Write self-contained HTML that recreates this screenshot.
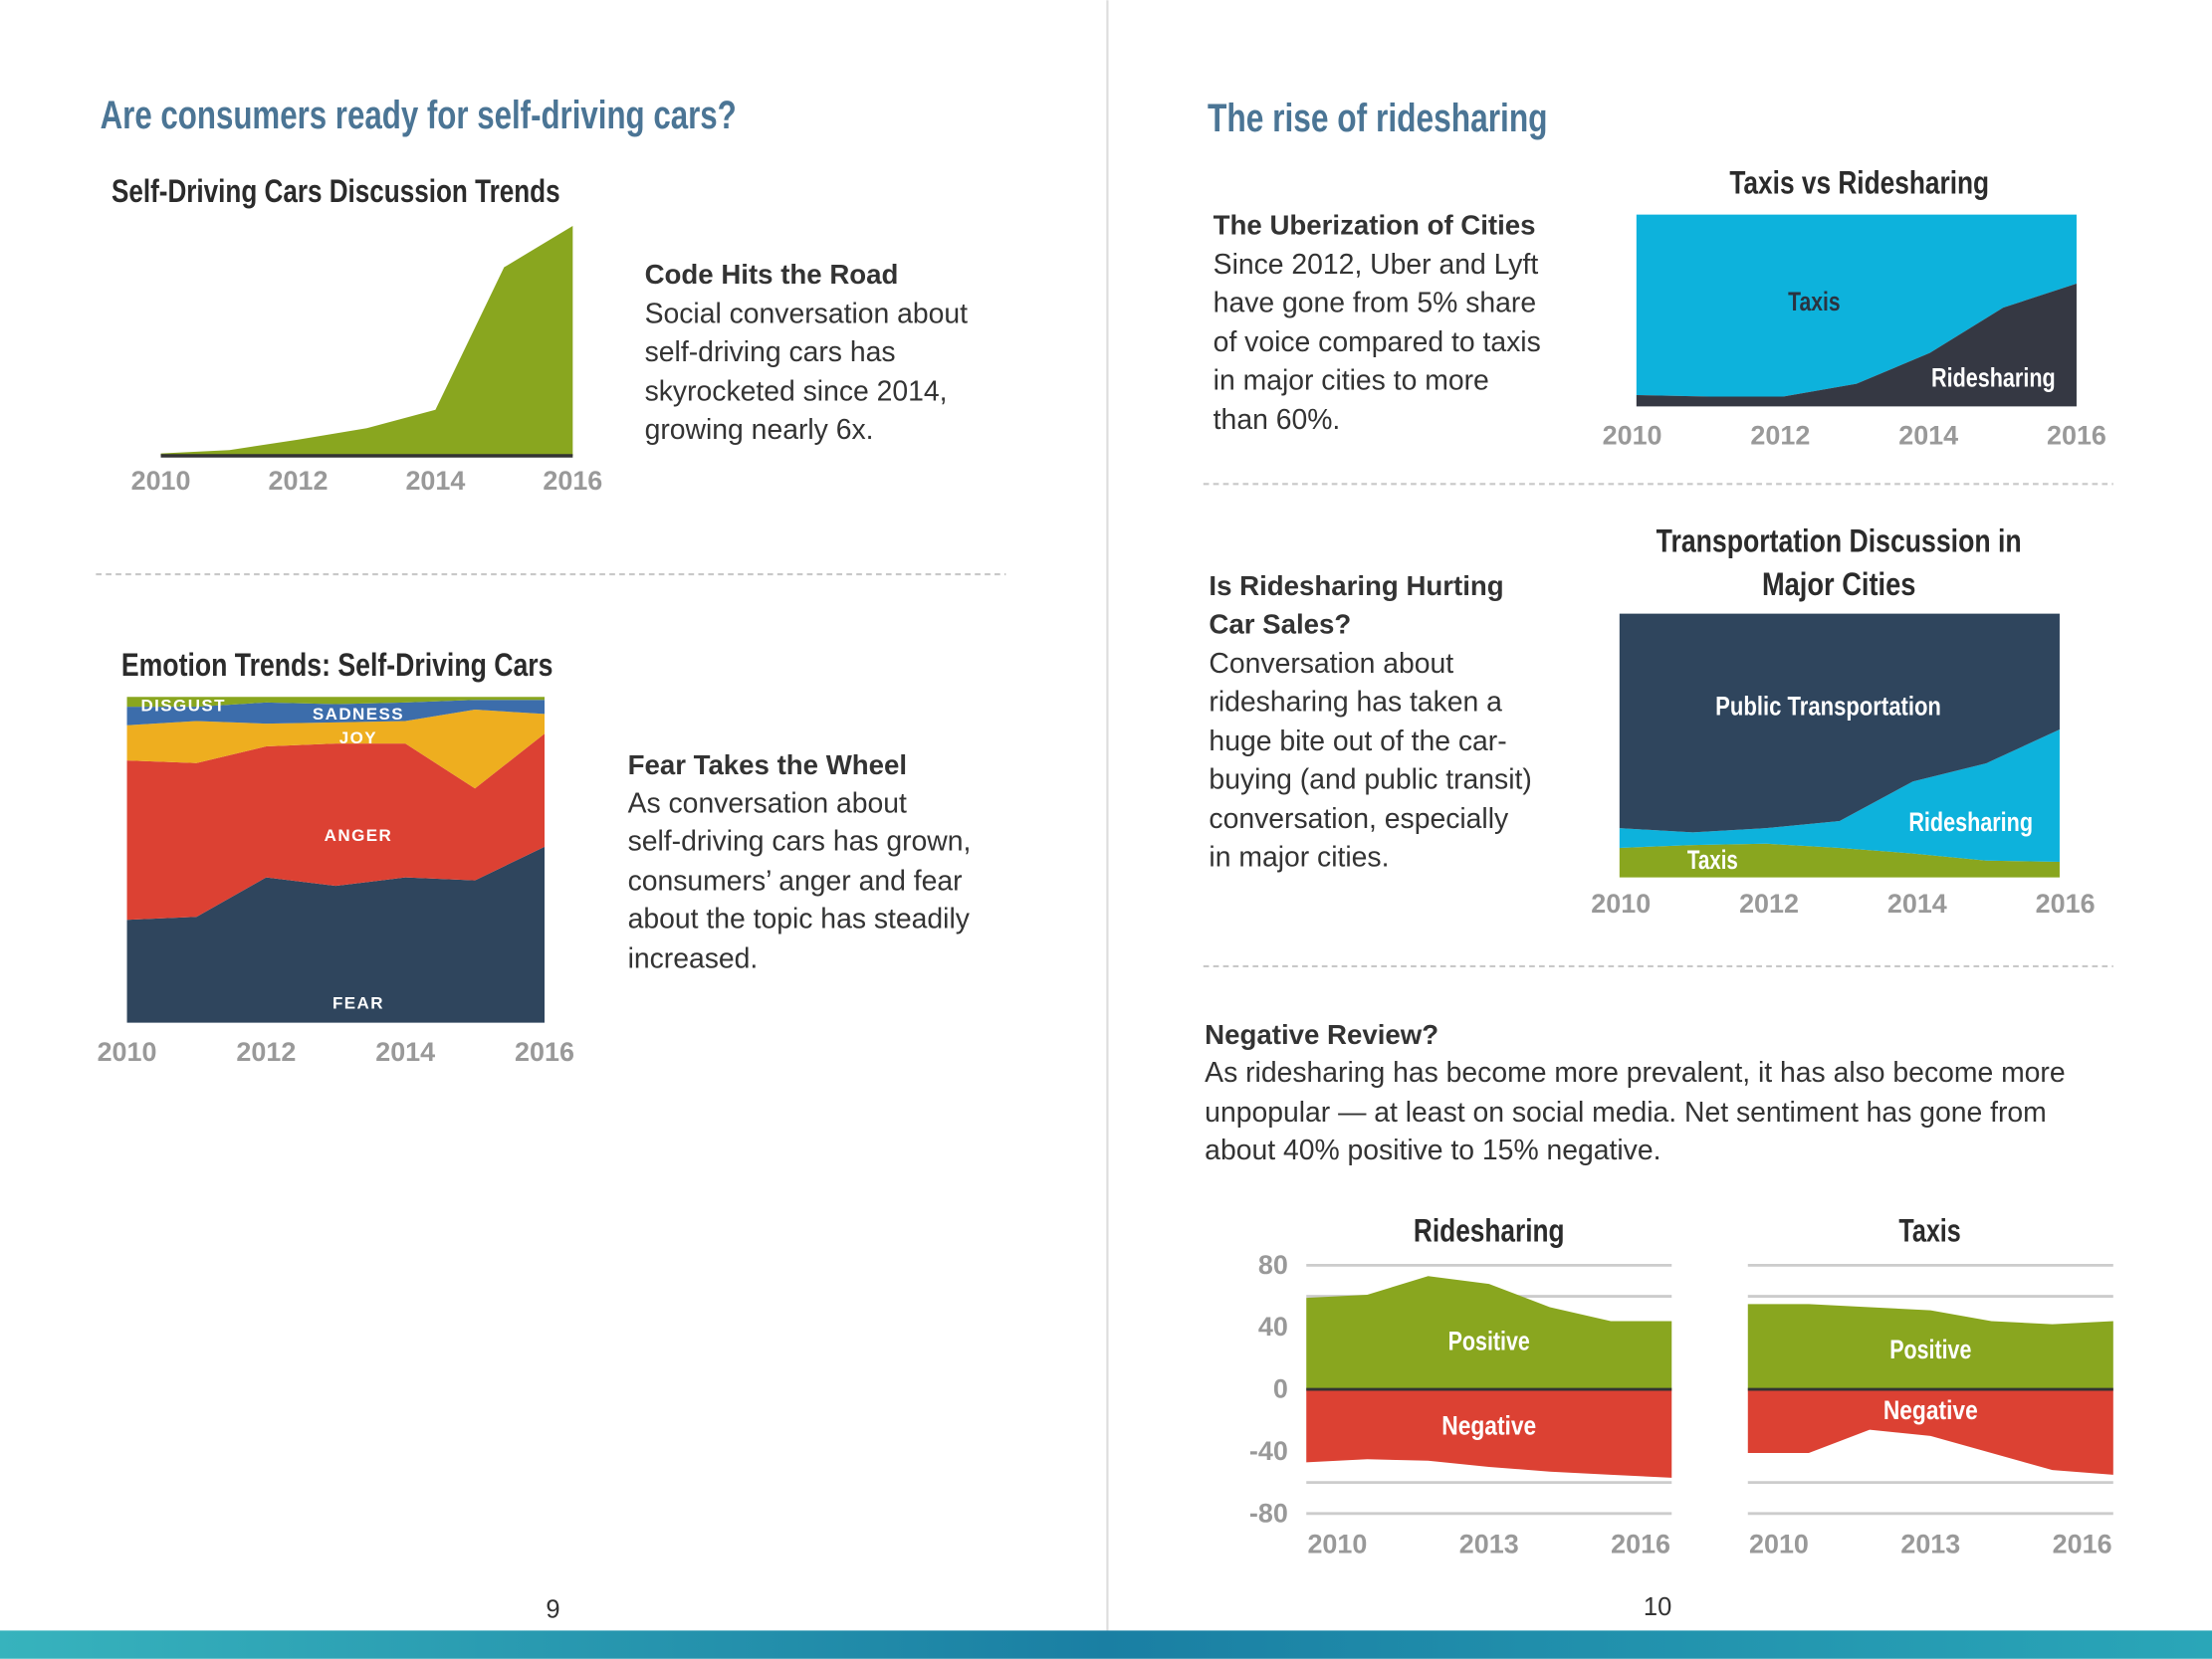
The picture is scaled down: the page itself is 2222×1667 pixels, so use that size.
<!DOCTYPE html>
<html><head><meta charset="utf-8">
<style>
html,body{margin:0;padding:0;background:#fff;}
svg{display:block;}
.h1{font-family:"Liberation Sans",sans-serif;font-weight:bold;fill:#4b7595;font-size:28px;}
.ct{font-family:"Liberation Sans",sans-serif;font-weight:bold;fill:#2b2b2b;font-size:23px;}
.bh{font-family:"Liberation Sans",sans-serif;font-weight:bold;fill:#333;font-size:19.5px;}
.bt{font-family:"Liberation Sans",sans-serif;fill:#333;font-size:20px;}
.tk{font-family:"Liberation Sans",sans-serif;font-weight:bold;fill:#999;font-size:19px;}
.in{font-family:"Liberation Sans",sans-serif;font-weight:bold;fill:#fff;font-size:19px;}
.em{font-family:"Liberation Sans",sans-serif;font-weight:bold;fill:#fff;font-size:12px;letter-spacing:1px;}
</style></head><body>
<svg id="pg" width="2222" height="1667" viewBox="0 0 1568 1176" xmlns="http://www.w3.org/2000/svg">
<defs>
<linearGradient id="ban" x1="0" x2="1" y1="0" y2="0">
<stop offset="0" stop-color="#37b3bd"/><stop offset="0.5" stop-color="#1a7fa3"/><stop offset="1" stop-color="#2aa6b8"/>
</linearGradient>
</defs>
<line x1="785" y1="0" x2="785" y2="1156" stroke="#ddd" stroke-width="1.5"/>
<text class="h1" x="71" y="91" textLength="451" lengthAdjust="spacingAndGlyphs">Are consumers ready for self-driving cars?</text>
<text class="h1" x="856" y="93" textLength="241" lengthAdjust="spacingAndGlyphs">The rise of ridesharing</text>

<text class="ct" x="79" y="143" textLength="318" lengthAdjust="spacingAndGlyphs">Self-Driving Cars Discussion Trends</text>
<g id="c1"></g>
<text class="bh" x="457" y="201">Code Hits the Road</text>
<g class="bt">
<text x="457" y="229">Social conversation about</text><text x="457" y="256">self-driving cars has</text>
<text x="457" y="284">skyrocketed since 2014,</text><text x="457" y="311">growing nearly 6x.</text></g>

<line x1="68" y1="407" x2="713" y2="407" stroke="#c8c8c8" stroke-width="1.5" stroke-dasharray="4,3"/>

<text class="ct" x="86" y="479" textLength="306" lengthAdjust="spacingAndGlyphs">Emotion Trends: Self-Driving Cars</text>
<g id="c2"></g>
<text class="bh" x="445" y="549">Fear Takes the Wheel</text>
<g class="bt">
<text x="445" y="576">As conversation about</text><text x="445" y="603">self-driving cars has grown,</text>
<text x="445" y="631">consumers’ anger and fear</text><text x="445" y="658">about the topic has steadily</text>
<text x="445" y="686">increased.</text></g>

<text class="ct" x="1226" y="137" textLength="184" lengthAdjust="spacingAndGlyphs">Taxis vs Ridesharing</text>
<g id="c3"></g>
<text class="bh" x="860" y="166">The Uberization of Cities</text>
<g class="bt">
<text x="860" y="194">Since 2012, Uber and Lyft</text><text x="860" y="221">have gone from 5% share</text>
<text x="860" y="249">of voice compared to taxis</text><text x="860" y="276">in major cities to more</text>
<text x="860" y="304">than 60%.</text></g>

<line x1="853" y1="343" x2="1498" y2="343" stroke="#c8c8c8" stroke-width="1.5" stroke-dasharray="4,3"/>

<text class="ct" x="1174" y="391" textLength="259" lengthAdjust="spacingAndGlyphs">Transportation Discussion in</text>
<text class="ct" x="1249" y="422" textLength="109" lengthAdjust="spacingAndGlyphs">Major Cities</text>
<g id="c4"></g>
<g class="bh">
<text x="857" y="422">Is Ridesharing Hurting</text><text x="857" y="449">Car Sales?</text></g>
<g class="bt">
<text x="857" y="477">Conversation about</text><text x="857" y="504">ridesharing has taken a</text>
<text x="857" y="532">huge bite out of the car-</text><text x="857" y="559">buying (and public transit)</text>
<text x="857" y="587">conversation, especially</text><text x="857" y="614">in major cities.</text></g>

<line x1="853" y1="685" x2="1498" y2="685" stroke="#c8c8c8" stroke-width="1.5" stroke-dasharray="4,3"/>

<text class="bh" x="854" y="740">Negative Review?</text>
<g class="bt">
<text x="854" y="767">As ridesharing has become more prevalent, it has also become more</text>
<text x="854" y="795">unpopular — at least on social media. Net sentiment has gone from</text>
<text x="854" y="822">about 40% positive to 15% negative.</text></g>

<text class="ct" x="1002" y="880" textLength="107" lengthAdjust="spacingAndGlyphs">Ridesharing</text>
<text class="ct" x="1346" y="880" textLength="44" lengthAdjust="spacingAndGlyphs">Taxis</text>
<g id="c5"></g>
<g id="c6"></g>

<text x="392" y="1147" text-anchor="middle" font-family="Liberation Sans, sans-serif" font-size="18" fill="#333">9</text>
<text x="1175" y="1145" text-anchor="middle" font-family="Liberation Sans, sans-serif" font-size="18" fill="#333">10</text>
<rect x="0" y="1156" width="1568" height="20" fill="url(#ban)"/>
</svg>
<script>
// ---- data ----
const years = [2010,2011,2012,2013,2014,2015,2016];
const sdValues = [1,2.5,7,12,20,82,100];
const sdTicks = [2010,2012,2014,2016];
const emFear = [31.6,32.5,44.6,42,44.6,43.7,54];
const emAnger = [48.9,47.2,40.2,43.7,41.1,28.2,34.7];
const emJoy = [10.8,12.9,7,6.5,6.9,24.2,6.1];
const emSadness = [5.7,4.4,6.5,5.6,5.7,3,4.3];
const emDisgust = [3,3,1.7,2.2,1.7,0.9,0.9];
const tvrRides = [5.9,5.1,5.1,11.8,27.9,51.5,64];
const tvrTaxis = [94.1,94.9,94.9,88.2,72.1,48.5,36];
const trTaxis = [11.2,12.3,12.8,11.2,9.1,6.4,5.9];
const trRides = [7.5,4.8,5.9,10.2,27.3,36.9,50.2];
const trPublic = [81.3,82.9,81.3,78.6,63.6,56.7,43.9];
const rsPos = [59,61,73,68,53,44,44];
const rsNeg = [-47,-45,-46,-50,-53,-55,-57];
const txPos = [55,55,53,51,44,42,44];
const txNeg = [-41,-41,-26,-30,-41,-52,-55];
const sentTicks = [2010,2013,2016];
const sentYTicks = [80,40,0,-40,-80];

const NS='http://www.w3.org/2000/svg';
function mk(parent,tag,attrs,txt){const e=document.createElementNS(NS,tag);for(const k in attrs)e.setAttribute(k,attrs[k]);if(txt!==undefined)e.textContent=txt;document.getElementById(parent).appendChild(e);return e;}
function lin(d0,d1,r0,r1){return v=>r0+(v-d0)*(r1-r0)/(d1-d0);}
function band(xf,yf,lo,hi){let d='M'+xf(years[0])+','+yf(hi[0]);for(let i=1;i<years.length;i++)d+=' L'+xf(years[i])+','+yf(hi[i]);for(let i=years.length-1;i>=0;i--)d+=' L'+xf(years[i])+','+yf(lo[i]);return d+' Z';}
function cum(arrs){const out=[];let acc=years.map(()=>0);out.push(acc);for(const a of arrs){acc=acc.map((v,i)=>v+a[i]);out.push(acc);}return out;}
const zeros=years.map(()=>0);
function lab(parent,t,cx,ly,w,cls,fill){const a={x:cx-w/2,y:ly,class:cls,textLength:w,lengthAdjust:'spacingAndGlyphs'};if(fill)a.style='fill:'+fill;return mk(parent,'text',a,t);}

// chart 1
{const x=lin(2010,2016,114,406),y=lin(0,100,323,160);
const p=mk('c1','path',{d:band(x,y,zeros,sdValues),fill:'#89a61f'});


const l=mk('c1','line',{x1:x(2010),x2:x(2016),y1:y(0),y2:y(0),stroke:'#333','stroke-width':2.5});


for(const t of sdTicks){const e=mk('c1','text',{x:x(t),y:347,'text-anchor':'middle',class:'tk'},t);

}}

// chart 2
{const x=lin(2010,2016,90,386),y=lin(0,100,725,494);
const c=cum([emFear,emAnger,emJoy,emSadness,emDisgust]);
const cols=['#2f455d','#dc4133','#eeae1f','#3c6dab','#89a61f'];
const names=['fear-area','anger-area','joy-area','sadness-area','disgust-area'];
for(let i=0;i<5;i++){const p=mk('c2','path',{d:band(x,y,c[i],c[i+1]),fill:cols[i]});

}
const labs=[['DISGUST',130,504],['SADNESS',254,510],['JOY',254,527],['ANGER',254,596],['FEAR',254,715]];
for(const [t,lx,ly] of labs){const e=mk('c2','text',{x:lx,y:ly,'text-anchor':'middle',class:'em'},t);

}
for(const t of sdTicks){const e=mk('c2','text',{x:x(t),y:752,'text-anchor':'middle',class:'tk'},t);

}}

// chart 3
{const x=lin(2010,2016,1160,1472),y=lin(0,100,288,152);
const c=cum([tvrRides,tvrTaxis]);
const a=mk('c3','path',{d:band(x,y,c[1],c[2]),fill:'#0db2dc'});


const b=mk('c3','path',{d:band(x,y,c[0],c[1]),fill:'#353843'});


const t1=lab('c3','Taxis',1286,220,37,'in','#2b3340');


const t2=lab('c3','Ridesharing',1413,274,88,'in');


const tx=lin(2010,2016,1157,1472);
for(const t of sdTicks){const e=mk('c3','text',{x:tx(t),y:315,'text-anchor':'middle',class:'tk'},t);

}}

// chart 4
{const x=lin(2010,2016,1148,1460),y=lin(0,100,622,435);
const c=cum([trTaxis,trRides,trPublic]);
const cols=['#89a61f','#0db2dc','#2f455d'];
const names=['taxis-area','ridesharing-area','public-transportation-area'];
for(let i=0;i<3;i++){const p=mk('c4','path',{d:band(x,y,c[i],c[i+1]),fill:cols[i]});

}
const labs=[['Public Transportation',1296,507,160],['Ridesharing',1397,589,88],['Taxis',1214,616,36]];
for(const [t,lx,ly,w] of labs){const e=lab('c4',t,lx,ly,w,'in');

}
const tx=lin(2010,2016,1149,1464);
for(const t of sdTicks){const e=mk('c4','text',{x:tx(t),y:647,'text-anchor':'middle',class:'tk'},t);

}}

// sentiment charts
function sentiment(id,x0,x1,pos,neg,yaxis){
const x=lin(2010,2016,x0,x1),y=lin(0,80,985,897);
for(const g of [80,60,-60,-80]){const l=mk(id,'line',{x1:x0,x2:x1,y1:y(g),y2:y(g),stroke:'#ccc','stroke-width':2});

}
const p=mk(id,'path',{d:band(x,y,zeros,pos),fill:'#89a61f'});


const n=mk(id,'path',{d:band(x,y,zeros,neg),fill:'#dc4133'});


const z=mk(id,'line',{x1:x0,x2:x1,y1:y(0),y2:y(0),stroke:'#333','stroke-width':2});


const cx=(x0+x1)/2;
const a=lab(id,'Positive',cx,yaxis?957:963,58,'in');


const b=lab(id,'Negative',cx,yaxis?1017:1006,67,'in');


const tx=lin(2010,2016,x0+22,x1-22);
for(const t of sentTicks){const e=mk(id,'text',{x:tx(t),y:1101,'text-anchor':'middle',class:'tk'},t);

}
if(yaxis){for(const v of sentYTicks){const e=mk(id,'text',{x:913,y:y(v)+6,'text-anchor':'end',class:'tk'},v);

}}
}
sentiment('c5',926,1185,rsPos,rsNeg,true);
sentiment('c6',1239,1498,txPos,txNeg,false);
</script>
</body></html>
